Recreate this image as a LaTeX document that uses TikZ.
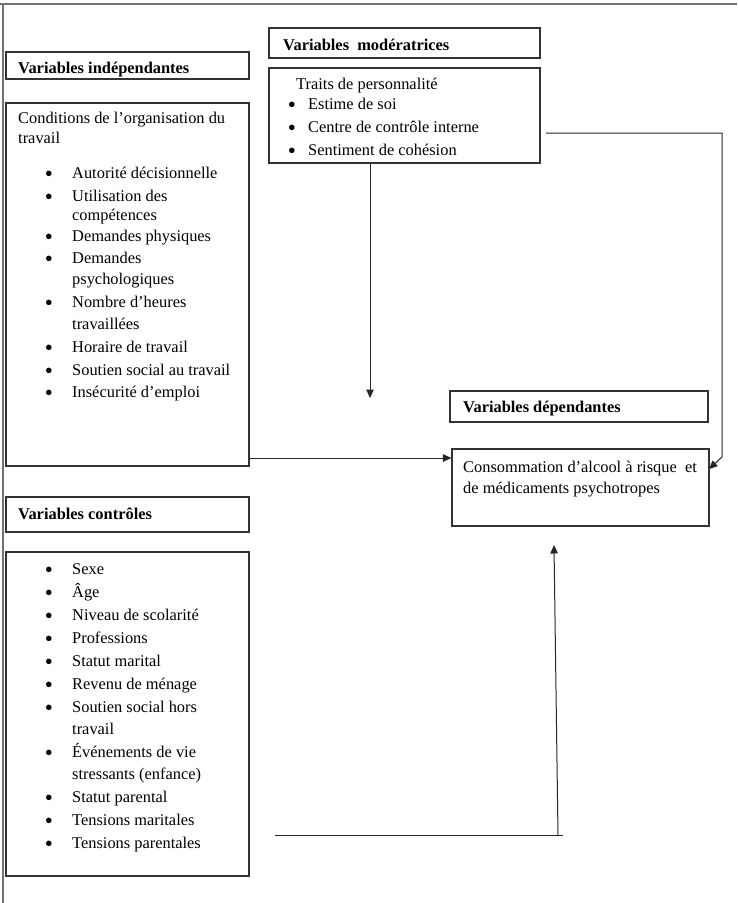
\documentclass[tikz,border=0pt]{standalone}
\usepackage{fontspec}
\setmainfont{Liberation Serif}
\usetikzlibrary{arrows.meta}
\newcommand{\Tl}[4]{\node[tx] (#1) at (#2,#3+5.5) {#4};}
\newcommand{\Bl}[5]{\node[bul] (#1b) at (#2,#4+8) {•};\node[tx] (#1) at (#3,#4+5.5) {#5};}
\begin{document}
\begin{tikzpicture}[x=1pt,y=-1pt,
  box/.style={draw=black!80,line width=1.1pt,inner sep=0pt,anchor=center},
  tx/.style={anchor=base west,inner sep=0pt,font=\fontsize{16.4}{20}\selectfont},
  hd/.style={tx,font=\fontsize{16.4}{20}\selectfont\bfseries},
  bul/.style={anchor=base,inner sep=0pt,font=\fontsize{23}{24}\selectfont},
  conn/.style={draw=black!85,line width=1pt},
  arr/.style={conn,-{Triangle[length=8.5pt,width=7.5pt]}},
  frame/.style={draw=black!55,line width=1.2pt}]
\useasboundingbox (0,0) rectangle (737,903);
% frame
\coordinate (fA) at (0,4);
\coordinate (fB) at (737,4);
\coordinate (fC) at (3,4);
\coordinate (fD) at (3,903);
\draw[frame] (fA) -- (fB);
\draw[frame] (fC) -- (fD);
% boxes
\node[box,minimum width=243pt,minimum height=27pt] (indH) at (127.5,65.5) {};
\node[box,minimum width=243pt,minimum height=363pt] (indB) at (127.5,284.5) {};
\node[box,minimum width=271pt,minimum height=30pt] (modH) at (404.5,43) {};
\node[box,minimum width=271pt,minimum height=95pt] (modB) at (404.5,115.5) {};
\node[box,minimum width=243pt,minimum height=35pt] (ctlH) at (127.5,514.5) {};
\node[box,minimum width=243pt,minimum height=324pt] (ctlB) at (127.5,714) {};
\node[box,minimum width=258pt,minimum height=31pt] (depH) at (579,406.5) {};
\node[box,minimum width=257pt,minimum height=77pt] (depB) at (580.5,487.5) {};
% headers
\node[hd] (indHt) at (18,68+5.5) {Variables indépendantes};
\node[hd] (modHt) at (283,45+5.5) {Variables\ \ modératrices};
\node[hd] (ctlHt) at (18,514+5.5) {Variables contrôles};
\node[hd] (depHt) at (463,407+5.5) {Variables dépendantes};
% independent content
\Tl{i0}{18}{118}{Conditions de l’organisation du}
\Tl{i00}{18}{138}{travail}
\Bl{i1}{49}{72}{173}{Autorité décisionnelle}
\Bl{i2}{49}{72}{196}{Utilisation des}
\Tl{i2a}{72}{215}{compétences}
\Bl{i3}{49}{72}{236}{Demandes physiques}
\Bl{i4}{49}{72}{258}{Demandes}
\Tl{i4a}{72}{279}{psychologiques}
\Bl{i5}{49}{72}{302}{Nombre d’heures}
\Tl{i5a}{72}{324}{travaillées}
\Bl{i6}{49}{72}{347}{Horaire de travail}
\Bl{i7}{49}{72}{370}{Soutien social au travail}
\Bl{i8}{49}{72}{392}{Insécurité d’emploi}
% moderator content
\Tl{m0}{296}{84}{Traits de personnalité}
\Bl{m1}{292}{308}{104}{Estime de soi}
\Bl{m2}{292}{308}{127}{Centre de contrôle interne}
\Bl{m3}{292}{308}{150}{Sentiment de cohésion}
% dependent content
\Tl{d1}{463}{467}{Consommation d’alcool à risque\ \ et}
\Tl{d2}{463}{488}{de médicaments psychotropes}
% control content
\Bl{c1}{49}{72}{569}{Sexe}
\Bl{c2}{49}{72}{592}{Âge}
\Bl{c3}{49}{72}{615}{Niveau de scolarité}
\Bl{c4}{49}{72}{638}{Professions}
\Bl{c5}{49}{72}{661}{Statut marital}
\Bl{c6}{49}{72}{684}{Revenu de ménage}
\Bl{c7}{49}{72}{707}{Soutien social hors}
\Tl{c7a}{72}{729}{travail}
\Bl{c8}{49}{72}{752}{Événements de vie}
\Tl{c8a}{72}{774}{stressants (enfance)}
\Bl{c9}{49}{72}{797}{Statut parental}
\Bl{c10}{49}{72}{820}{Tensions maritales}
\Bl{c11}{49}{72}{843}{Tensions parentales}
% connectors
\coordinate (mEnd) at (370,398);
\draw[arr] (modB.south -| mEnd) -- (mEnd);
\coordinate (hY) at (0,458);
\draw[arr] (indB.east |- hY) -- (depB.west |- hY);
\coordinate (r0) at (546,133);
\coordinate (r1) at (722,133);
\coordinate (r2) at (722,457);
\coordinate (r3) at (709,469);
\draw[arr] (r0) -- (r1) -- (r2) -- (r3);
\coordinate (b0) at (275,835);
\coordinate (b1) at (563,835);
\coordinate (b2) at (558,835);
\coordinate (b3) at (554,545);
\draw[conn] (b0) -- (b1);
\draw[arr] (b2) -- (b3);
\end{tikzpicture}
\end{document}
